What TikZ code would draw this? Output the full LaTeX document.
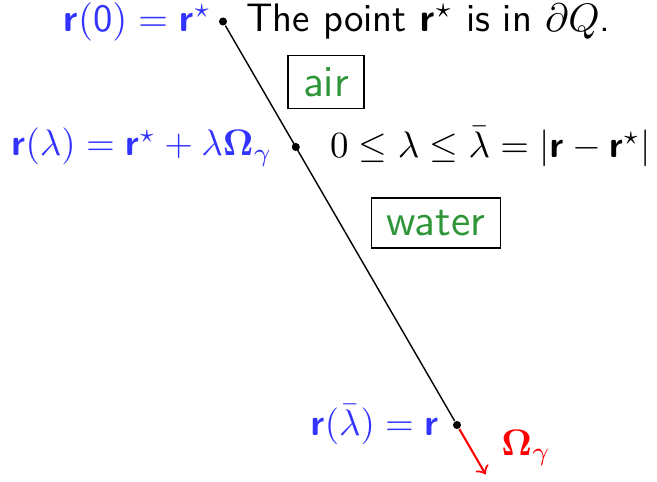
\RequirePackage{fix-cm}
\documentclass[tikz,border=0pt]{standalone}
\usetikzlibrary{positioning}
\definecolor{labelblue}{HTML}{3333FF}
\definecolor{mediumgreen}{HTML}{2E9638}
\DeclareMathAlphabet{\mathbsf}{OT1}{cmss}{bx}{n}

\begin{document}
\begin{tikzpicture}[
    x=0.1mm, y=-0.1mm,
    every node/.style={font=\sffamily\fontsize{10.5}{12.6}\selectfont},
    dot/.style={circle, fill=black, inner sep=0pt, minimum size=2.3pt},
    bluelabel/.style={text=labelblue, inner sep=0pt},
    plainlabel/.style={inner sep=0pt},
    toplabel/.style={font=\sffamily\fontsize{11}{13.2}\selectfont},
    notelabel/.style={font=\sffamily\fontsize{11.3}{13.6}\selectfont},
    mediumbox/.style={draw, text=mediumgreen, inner xsep=1.5mm, inner ysep=1.2mm,
        font=\sffamily\fontsize{12.6}{15}\selectfont}
]
  \useasboundingbox (0,0) rectangle (657,482);

  % points on the ray
  \node[dot] (rstar) at (223,21.5) {};
  \node[dot] (rlam) at (295.8,147) {};
  \node[dot] (rbar) at (457,425) {};
  \coordinate (omtip) at (485.6,474.3);

  \draw (rstar) -- (rbar);
  \draw[->, red, semithick] (rbar) -- (omtip);

  % labels of the points
  \node[bluelabel, toplabel, left=0.6mm of rstar] (lstar) {$\mathbsf{r}(\mathsf{0})=\mathbsf{r}^\star$};
  \node[plainlabel, notelabel, right=1.8mm of rstar] (note) {The point $\mathbsf{r}^\star$ is in $\partial Q$.};
  \node[bluelabel, left=1.8mm of rlam] (llam) {$\mathbsf{r}(\lambda)=\mathbsf{r}^\star+\lambda\mathbf{\Omega}_\gamma$};
  \node[plainlabel, right=2.9mm of rlam] (range) {$0\le\lambda\le\bar\lambda=|\mathbsf{r}-\mathbsf{r}^\star|$};
  \node[bluelabel, left=1.3mm of rbar] (lbar) {$\mathbsf{r}(\bar\lambda)=\mathbsf{r}$};
  \node[plainlabel, text=red, right=3.9mm of rbar, yshift=-2.3mm] (lom) {$\mathbf{\Omega}_\gamma$};

  % media
  \node[mediumbox] (air) at (326,82) {air};
  \node[mediumbox] (water) at (436,223) {water};

\end{tikzpicture}
\end{document}
